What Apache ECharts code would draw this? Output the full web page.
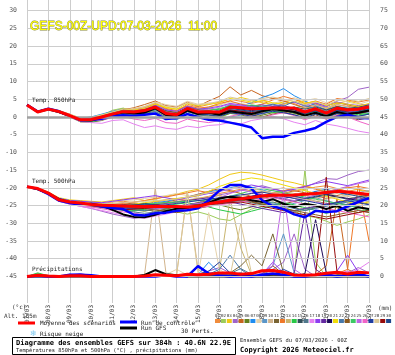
<!DOCTYPE html>
<html><head><meta charset="utf-8">
<script src="https://cdn.jsdelivr.net/npm/echarts@6/dist/echarts.min.js"></script>
<style>html,body{margin:0;padding:0;background:#fff}#c{width:395px;height:355px}</style>
</head><body><div id="c"></div>
<script>
const days = ['07/03','08/03','09/03','10/03','11/03','12/03','13/03','14/03','15/03','16/03','17/03','18/03','19/03','20/03','21/03','22/03','23/03'];
const leftTicks = [-45,-40,-35,-30,-25,-20,-15,-10,-5,0,5,10,15,20,25,30];
const rightTicks = [0,5,10,15,20,25,30,35,40,45,50,55,60,65,70,75];
const pertNames = ['01','02','03','04','05','06','07','08','09','10','11','12','13','14','15','16','17','18','19','20','21','22','23','24','25','26','27','28','29','30'];
const pertColors = ['#f08c3c','#9ccc5a','#f0c814','#a064c8','#c8641e','#64821e','#1e8cf0','#e6d2aa','#5a96c8','#d2b48c','#786432','#f07828','#c8b46e','#28c846','#32505a','#50788c','#e682f0','#8c3cf0','#6428a0','#1e0a5a','#f0dc0a','#4678aa','#8c5a1e','#3cc864','#be64e6','#f064c8','#1e3ca0','#dcc896','#960a0a','#1e468c'];

const mean850 = [3.4,1.4,2.2,1.5,0.4,-0.8,-0.7,0.0,0.8,1.5,1.4,1.8,2.8,1.0,0.6,2.4,1.4,1.5,1.4,2.8,2.6,2.3,2.4,2.5,2.5,2.5,1.4,2.3,1.1,2.5,2.0,2.2,2.8];
const control850 = [3.4,1.5,2.3,1.6,0.3,-0.9,-0.8,-0.5,0.2,0.5,0.3,0.6,1.0,-0.6,-0.3,0.8,0.0,-0.8,-1.0,-1.6,-2.2,-3.0,-6.0,-5.6,-5.6,-4.5,-3.9,-3.1,-1.4,0.0,0.6,-0.3,-0.4];
const gfs850 = [3.4,1.5,2.2,1.4,0.3,-0.9,-1.0,-0.3,0.6,1.3,1.0,1.2,2.4,0.6,0.0,1.8,0.8,1.2,0.6,1.6,1.2,0.8,1.6,2.2,1.8,1.4,0.4,1.2,0.2,1.4,0.8,1.2,1.8];

const mean500 = [-19.7,-20.2,-21.5,-23.4,-24.0,-24.3,-24.7,-24.9,-25.0,-25.1,-25.2,-25.3,-25.2,-25.3,-25.3,-25.4,-25.2,-24.5,-24.0,-23.5,-23.1,-22.7,-22.3,-22.0,-22.1,-22.0,-21.8,-21.6,-21.3,-21.0,-21.2,-21.5,-21.9];
const control500 = [-19.7,-20.3,-21.8,-23.6,-24.3,-24.8,-24.6,-25.3,-25.7,-26.0,-27.6,-27.8,-27.2,-27.0,-26.5,-26.3,-25.8,-23.5,-20.8,-19.2,-19.2,-20.2,-23.5,-25.2,-26.0,-27.5,-28.3,-26.5,-26.8,-26.6,-25.2,-24.0,-22.9];
const gfs500 = [-19.7,-20.4,-21.6,-23.2,-24.0,-24.6,-24.5,-25.0,-26.2,-27.5,-28.2,-28.3,-27.6,-26.6,-25.9,-25.6,-25.2,-24.2,-23.0,-22.5,-22.8,-23.5,-24.0,-23.2,-24.5,-25.5,-24.5,-25.0,-26.0,-25.0,-26.5,-25.5,-26.0];

const meanPrecip = [0,0.3,0.1,0,0.2,0.2,0,0,0,0,0,0.1,0.5,0.3,0.2,0.6,0.5,0.6,1.0,1.0,0.6,0.8,1.6,1.7,1.2,0.4,0.3,0.5,0.9,1.2,0.7,1.2,1.0];
const controlPrecip = [0,0.2,0,0,0.5,0.5,0.3,0,0,0,0,0,0,0.3,0,0,2.9,0.8,0.3,0,0,0,0.5,0.8,0.5,0,0,0.3,0.5,0,0.3,0.6,0];
const gfsPrecip = [0,0,0,0,0,0,0,0,0,0,0,0.4,1.8,0.6,0.3,0,0,0,0,0,0.3,0,0,0,0,0,0,0,0,0,0,0,0];

const pert850 = [
[3.4,1.6,2.4,1.8,0.6,-0.5,-0.3,0.6,1.5,2.4,2.0,2.8,3.9,2.2,1.5,3.6,2.8,3.5,4.2,5.0,4.4,3.8,4.5,5.2,4.6,3.8,2.5,3.0,2.2,3.4,3.0,2.6,3.2],
[3.3,1.3,2.0,1.2,0.2,-1.0,-0.6,0.4,1.9,2.5,1.6,1.2,2.2,0.5,0.2,1.8,0.9,0.5,-0.2,1.0,1.5,2.8,3.5,2.0,1.2,2.6,3.1,2.0,0.8,1.5,2.2,3.0,2.4],
[3.4,1.5,2.3,1.4,0.3,-0.9,-1.2,-0.5,0.5,1.2,1.8,2.9,3.8,2.8,2.2,3.0,2.2,2.8,3.4,4.6,5.5,4.8,4.0,3.6,4.2,5.0,4.2,3.6,2.5,3.8,4.5,3.8,3.0],
[3.5,1.4,2.1,1.6,0.5,-0.7,-0.9,-0.2,0.3,0.9,0.6,1.0,2.0,0.2,-0.4,1.5,0.8,1.2,0.5,1.8,2.0,1.2,1.6,2.5,3.8,4.2,3.0,3.5,2.8,4.5,5.5,7.8,8.4],
[3.4,1.5,2.2,1.5,0.5,-0.6,-0.4,0.2,1.2,2.0,2.6,3.5,4.5,3.2,2.8,4.2,3.0,4.5,5.8,8.5,6.2,7.5,6.0,5.2,4.5,3.5,2.5,3.8,3.2,4.0,3.4,2.8,3.5],
[3.3,1.3,2.2,1.3,0.0,-1.4,-1.5,-1.0,0.0,0.8,0.5,0.9,1.6,0.0,-0.6,1.0,0.2,0.6,0.0,1.0,0.6,-0.2,0.5,1.2,1.8,1.0,0.2,1.4,0.0,0.8,0.5,1.4,2.0],
[3.4,1.4,2.3,1.7,0.7,-0.4,0.0,0.8,1.6,2.2,1.5,2.0,3.2,1.5,0.8,2.8,1.8,1.2,2.0,3.5,3.0,4.0,5.5,6.5,8.0,6.0,4.5,3.2,2.0,3.0,2.5,1.5,2.2],
[3.4,1.6,2.5,1.8,0.8,-0.3,-0.2,0.5,1.0,1.8,2.4,3.0,4.2,3.5,3.0,4.4,3.6,4.0,3.5,4.2,3.8,3.2,3.0,3.8,4.6,5.4,4.6,5.2,4.0,5.0,4.2,3.5,4.5],
[3.4,1.4,2.1,1.3,0.2,-1.1,-1.3,-0.8,0.2,0.6,0.2,0.6,1.5,-0.2,-0.8,0.8,0.0,-0.5,-1.2,0.0,0.5,1.5,2.8,3.4,2.5,1.6,0.5,1.2,0.2,1.0,1.6,2.2,1.5],
[3.3,1.2,1.9,1.2,0.0,-1.2,-1.0,-0.4,0.5,1.3,1.0,1.5,2.2,0.6,0.2,2.0,1.2,0.8,1.6,2.4,2.0,1.5,2.0,1.6,1.0,2.0,2.6,3.4,2.4,3.6,2.8,2.0,1.6],
[3.4,1.5,2.2,1.5,0.4,-0.8,-0.6,0.3,1.0,1.8,1.4,1.6,2.5,1.2,0.4,2.2,1.2,1.0,0.6,1.6,1.0,0.4,1.2,2.2,2.8,2.0,1.0,2.5,1.8,3.0,2.2,1.6,1.8],
[3.4,1.6,2.4,1.6,0.6,-0.5,-0.5,0.2,0.8,1.6,2.2,2.6,3.6,2.4,1.8,3.2,2.5,2.8,3.8,4.5,3.6,3.0,3.6,4.8,5.8,5.0,3.8,4.5,3.6,5.2,4.8,4.2,4.8],
[3.4,1.4,2.2,1.4,0.3,-0.9,-0.8,-0.2,0.6,1.2,1.2,1.5,2.6,1.0,0.8,2.5,1.6,2.0,2.2,3.0,2.4,2.0,2.6,3.0,2.6,2.2,1.8,2.6,1.6,2.0,1.6,1.2,1.8],
[3.3,1.3,2.0,1.3,0.1,-1.2,-1.4,-0.6,0.4,1.0,1.2,1.8,2.6,1.6,1.0,2.2,1.8,2.4,2.0,3.2,2.8,2.2,1.8,1.2,1.6,2.2,1.5,2.0,0.8,1.8,1.2,0.6,1.0],
[3.4,1.5,2.3,1.6,0.4,-0.6,-0.5,0.2,0.9,1.6,1.6,2.2,3.0,1.8,1.2,2.8,2.0,1.8,1.2,2.4,2.6,3.2,2.8,2.2,2.0,2.8,2.2,2.8,2.0,2.8,2.4,2.8,3.4],
[3.4,1.4,2.2,1.5,0.4,-0.7,-0.6,0.2,1.1,1.7,1.3,1.4,2.4,0.8,0.4,1.8,0.6,0.2,0.4,1.4,1.8,1.2,0.8,1.8,2.6,2.0,0.8,1.6,0.6,1.6,1.0,0.2,0.8],
[3.4,1.3,2.0,1.2,0.0,-1.3,-1.6,-1.8,-1.0,-0.8,-2.0,-3.0,-2.5,-3.2,-3.5,-2.6,-3.0,-2.4,-2.2,-1.5,-2.0,-1.0,-0.5,0.2,-0.5,-1.5,-2.2,-1.0,-2.0,-2.5,-3.2,-4.0,-4.5],
[3.4,1.5,2.3,1.6,0.6,-0.5,-0.5,0.4,1.4,2.0,1.8,2.4,3.4,2.0,1.6,3.0,2.2,2.5,3.0,3.8,3.4,3.0,3.4,3.0,3.6,4.2,3.4,4.0,3.0,4.2,3.6,3.2,3.6],
[3.4,1.4,2.1,1.4,0.3,-0.9,-0.8,-0.3,0.4,1.2,1.0,1.3,2.2,0.4,0.0,1.6,0.8,1.0,0.8,2.0,1.6,0.8,1.5,2.6,3.2,2.4,1.6,2.4,1.4,2.6,2.0,2.6,3.0],
[3.4,1.4,2.2,1.4,0.4,-0.8,-0.7,-0.1,0.7,1.4,1.2,1.6,2.6,1.0,0.5,2.2,1.2,1.4,1.4,2.6,2.2,1.8,2.2,2.8,2.4,2.0,1.2,2.0,1.0,2.2,1.6,1.8,2.4],
[3.4,1.6,2.4,1.7,0.7,-0.4,-0.2,0.6,1.4,2.2,2.0,2.4,3.6,2.6,2.2,3.8,3.2,3.6,4.0,5.2,4.8,4.2,4.6,4.0,3.6,4.4,3.8,4.4,3.2,4.0,3.6,3.0,3.8],
[3.4,1.3,2.0,1.2,0.1,-1.1,-1.0,-0.4,0.3,1.0,0.8,1.2,2.0,0.5,0.0,1.4,0.6,0.8,1.2,2.2,2.6,2.0,3.0,3.6,3.0,4.4,3.2,2.4,1.6,2.4,1.8,1.0,1.4],
[3.4,1.5,2.3,1.5,0.5,-0.6,-0.5,0.3,1.2,2.0,1.6,2.0,3.0,1.6,1.2,2.6,2.0,1.4,0.8,1.6,1.2,0.6,0.0,0.8,1.4,0.6,-0.4,0.6,-0.6,0.4,0.0,-0.8,-0.2],
[3.3,1.4,2.2,1.4,0.3,-0.9,-1.0,-0.6,0.4,1.0,0.9,1.2,2.2,0.8,0.3,1.9,1.4,1.8,2.4,3.0,2.6,3.4,3.0,2.4,1.8,1.2,0.6,1.6,0.6,1.4,0.8,1.2,0.6],
[3.4,1.5,2.2,1.6,0.5,-0.7,-0.6,0.1,0.9,1.6,1.5,2.0,3.0,1.4,0.9,2.6,1.8,2.2,2.8,3.6,3.2,2.6,2.8,2.4,2.0,2.6,1.8,2.2,1.2,1.8,1.4,2.0,2.6],
[3.4,1.3,2.1,1.3,0.2,-1.0,-1.1,-0.8,-0.2,0.2,-0.6,-1.0,-0.4,-1.6,-1.8,-0.6,-1.2,-1.6,-1.0,0.2,0.8,0.2,-0.2,0.6,1.2,0.4,-0.8,0.2,-0.6,0.6,0.0,-1.2,-2.2],
[3.4,1.4,2.2,1.5,0.4,-0.8,-0.9,-0.4,0.5,1.1,1.0,1.4,2.4,0.6,0.2,2.0,1.0,0.6,0.2,1.2,0.8,0.2,1.0,1.6,1.2,0.6,-0.2,0.8,0.0,1.0,0.6,0.2,0.8],
[3.4,1.6,2.4,1.8,0.8,-0.3,-0.1,0.6,1.4,2.2,2.2,2.8,4.0,3.0,2.6,4.0,3.4,3.8,4.4,5.6,5.0,4.6,5.2,5.6,5.0,4.4,3.4,4.2,3.4,4.6,5.0,4.4,5.2],
[3.4,1.5,2.2,1.5,0.4,-0.7,-0.6,0.0,0.8,1.4,1.2,1.6,2.6,1.2,0.6,2.2,1.4,1.6,1.0,2.0,1.6,1.2,1.8,2.4,2.0,1.6,1.0,1.8,0.8,2.0,1.4,1.0,1.6],
[3.4,1.4,2.1,1.4,0.3,-0.9,-0.8,-0.2,0.6,1.3,1.1,1.5,2.5,0.9,0.5,2.1,1.1,1.3,1.6,2.4,2.0,1.5,1.9,2.2,1.9,1.5,0.9,1.7,0.7,1.8,1.3,1.5,2.0]
];

const pert500 = [
[-19.7,-20.1,-21.4,-23.2,-23.8,-24.0,-24.2,-24.4,-24.0,-23.8,-24.2,-24.6,-24.0,-23.4,-23.0,-23.6,-23.0,-22.4,-21.6,-21.0,-20.4,-20.8,-21.4,-20.6,-20.0,-21.0,-20.4,-19.8,-19.4,-20.2,-21.0,-20.4,-21.0],
[-19.7,-20.3,-21.7,-23.6,-24.3,-24.8,-25.3,-25.6,-25.8,-26.2,-26.6,-26.0,-25.4,-26.0,-26.8,-27.4,-26.8,-27.6,-28.8,-29.2,-27.6,-26.0,-25.2,-24.6,-25.4,-26.6,-27.8,-28.4,-29.4,-30.6,-29.6,-28.8,-27.6],
[-19.6,-20.0,-21.2,-22.8,-23.4,-23.6,-23.8,-24.0,-23.6,-23.2,-22.8,-23.6,-23.2,-22.4,-21.8,-21.0,-20.4,-19.2,-17.6,-16.2,-15.6,-15.8,-16.4,-17.2,-18.0,-18.6,-19.4,-20.2,-21.0,-20.4,-19.8,-20.6,-21.2],
[-19.7,-20.3,-21.8,-23.8,-24.6,-25.2,-25.8,-26.6,-27.4,-28.0,-28.6,-28.2,-27.6,-26.8,-25.6,-24.8,-24.2,-23.0,-22.0,-21.4,-20.8,-20.0,-19.4,-20.2,-21.0,-20.4,-19.8,-18.6,-17.4,-17.6,-16.4,-15.4,-15.0],
[-19.7,-20.2,-21.5,-23.4,-24.0,-24.4,-24.8,-25.0,-24.6,-24.2,-24.6,-25.0,-24.6,-24.0,-23.4,-22.6,-21.8,-21.0,-20.2,-20.8,-21.6,-22.4,-23.0,-22.4,-21.6,-20.8,-21.4,-22.2,-23.0,-22.2,-21.4,-22.0,-22.6],
[-19.7,-20.2,-21.6,-23.5,-24.2,-24.6,-25.0,-25.4,-25.6,-25.8,-26.2,-26.6,-26.0,-25.8,-25.4,-25.0,-24.6,-24.2,-24.8,-25.6,-26.2,-25.4,-24.6,-24.0,-24.8,-25.6,-26.4,-25.6,-24.8,-25.6,-26.4,-27.0,-26.2],
[-19.7,-20.1,-21.3,-23.0,-23.6,-23.8,-24.2,-24.4,-24.8,-25.2,-25.0,-24.6,-24.2,-23.8,-23.2,-22.6,-22.0,-21.2,-20.6,-20.0,-19.4,-19.8,-20.6,-21.4,-22.0,-22.6,-21.8,-21.0,-20.4,-21.2,-22.0,-21.4,-20.8],
[-19.8,-20.3,-21.6,-23.4,-24.0,-24.2,-24.4,-24.2,-23.8,-23.6,-23.4,-23.0,-22.6,-22.2,-21.6,-22.2,-22.8,-23.4,-24.0,-24.6,-24.0,-23.2,-22.6,-21.8,-21.0,-20.2,-20.8,-21.6,-22.4,-23.0,-22.2,-21.6,-22.4],
[-19.7,-20.2,-21.5,-23.5,-24.2,-24.6,-25.0,-25.4,-25.8,-26.0,-25.6,-25.2,-25.6,-26.2,-26.8,-26.2,-25.6,-25.0,-24.4,-23.8,-23.2,-22.6,-23.4,-24.2,-25.0,-24.4,-23.6,-22.8,-23.6,-24.4,-23.8,-23.2,-23.8],
[-19.7,-20.2,-21.5,-23.3,-23.9,-24.2,-24.4,-24.6,-24.4,-24.6,-25.0,-25.4,-25.0,-24.6,-24.2,-24.8,-25.4,-24.8,-24.0,-23.2,-22.4,-21.6,-21.0,-21.6,-22.2,-23.0,-23.6,-23.0,-22.2,-21.6,-22.4,-23.2,-24.0],
[-19.7,-20.3,-21.7,-23.6,-24.3,-24.7,-25.1,-25.4,-25.6,-25.4,-25.8,-26.2,-26.6,-26.0,-25.4,-24.8,-24.2,-23.6,-23.0,-22.4,-23.0,-23.8,-24.6,-25.2,-24.6,-23.8,-23.2,-23.8,-24.4,-25.2,-24.6,-24.0,-24.6],
[-19.7,-20.1,-21.4,-23.2,-23.8,-24.0,-24.4,-24.6,-24.8,-24.4,-24.0,-23.6,-23.0,-22.6,-22.0,-21.4,-20.8,-21.4,-22.2,-23.0,-23.6,-23.0,-22.2,-21.4,-20.8,-20.2,-19.6,-20.4,-21.2,-20.6,-20.0,-19.6,-20.2],
[-19.7,-20.2,-21.5,-23.4,-24.1,-24.5,-24.9,-25.2,-25.4,-25.6,-25.4,-25.0,-24.6,-24.2,-23.8,-23.4,-23.0,-22.6,-22.2,-22.8,-23.4,-22.8,-22.2,-21.6,-21.0,-21.6,-22.2,-21.6,-21.0,-20.6,-21.2,-21.8,-22.4],
[-19.7,-20.3,-21.6,-23.5,-24.2,-24.6,-25.0,-25.2,-25.6,-26.0,-26.4,-26.0,-25.6,-25.0,-24.6,-24.2,-24.8,-25.4,-26.2,-26.8,-27.4,-26.6,-25.8,-25.0,-24.2,-24.8,-25.6,-26.4,-27.2,-26.4,-25.6,-26.2,-26.8],
[-19.7,-20.2,-21.5,-23.4,-24.0,-24.3,-24.6,-24.8,-25.0,-25.2,-25.0,-24.8,-25.2,-25.6,-25.2,-24.8,-24.4,-24.0,-23.6,-23.2,-22.8,-22.4,-22.0,-22.6,-23.2,-23.8,-23.2,-22.6,-22.0,-22.6,-23.2,-22.6,-22.0],
[-19.7,-20.2,-21.6,-23.6,-24.3,-24.8,-25.2,-25.6,-26.0,-26.4,-26.8,-27.2,-26.8,-26.4,-26.0,-25.6,-25.2,-24.8,-24.4,-24.0,-23.6,-24.2,-24.8,-25.4,-26.0,-26.6,-26.0,-25.4,-24.8,-24.2,-24.8,-25.4,-26.0],
[-19.7,-20.3,-21.8,-23.8,-24.6,-25.2,-25.8,-26.4,-27.0,-27.6,-28.2,-28.6,-28.0,-27.4,-26.8,-26.2,-25.8,-25.2,-24.6,-24.0,-23.4,-22.8,-22.2,-21.6,-22.2,-22.8,-23.4,-24.0,-24.6,-25.2,-25.8,-26.4,-27.0],
[-19.7,-20.1,-21.3,-23.0,-23.6,-23.8,-24.0,-24.2,-23.8,-23.4,-23.0,-22.6,-22.2,-22.8,-23.4,-22.8,-22.2,-21.6,-21.0,-20.4,-19.8,-19.2,-19.8,-20.4,-21.0,-20.4,-19.6,-18.8,-18.2,-18.8,-19.4,-18.6,-17.8],
[-19.7,-20.2,-21.5,-23.4,-24.1,-24.5,-24.9,-25.2,-25.6,-26.0,-25.6,-25.2,-24.8,-24.4,-24.0,-23.6,-23.2,-22.8,-23.4,-24.0,-24.6,-25.2,-25.8,-26.4,-27.0,-26.4,-25.8,-25.2,-24.6,-24.0,-23.4,-22.8,-23.4],
[-19.7,-20.2,-21.5,-23.3,-23.9,-24.2,-24.6,-24.8,-25.0,-24.8,-24.6,-24.4,-24.8,-25.2,-25.6,-26.0,-25.4,-24.8,-24.2,-23.6,-23.0,-22.4,-21.8,-22.4,-23.0,-22.4,-21.8,-21.2,-21.8,-22.4,-23.0,-23.6,-23.0],
[-19.7,-20.1,-21.4,-23.2,-23.8,-24.1,-24.4,-24.6,-24.8,-25.0,-24.6,-24.2,-23.8,-23.4,-23.0,-22.6,-22.2,-21.0,-19.6,-18.6,-17.8,-17.2,-17.6,-18.4,-19.2,-20.0,-20.8,-21.6,-22.4,-23.2,-24.0,-24.6,-24.0],
[-19.7,-20.2,-21.6,-23.5,-24.2,-24.6,-25.0,-25.3,-25.6,-25.9,-26.2,-26.4,-26.0,-25.6,-25.2,-24.8,-24.4,-24.0,-23.6,-23.2,-22.8,-23.4,-24.0,-24.6,-25.2,-25.8,-26.4,-25.8,-25.2,-24.6,-24.0,-23.4,-22.8],
[-19.7,-20.2,-21.5,-23.4,-24.0,-24.4,-24.8,-25.0,-25.2,-25.4,-25.6,-25.8,-26.2,-26.6,-27.0,-26.4,-25.8,-25.2,-24.6,-24.0,-23.4,-24.0,-24.6,-25.2,-25.8,-26.4,-27.0,-27.6,-28.2,-27.6,-27.0,-26.4,-27.0],
[-19.7,-20.3,-21.6,-23.4,-24.1,-24.4,-24.8,-25.0,-25.2,-25.0,-24.8,-24.6,-24.4,-24.2,-24.0,-23.8,-23.6,-23.4,-23.2,-22.4,-21.6,-20.8,-20.2,-20.8,-21.4,-22.0,-22.6,-23.2,-23.8,-24.4,-25.0,-25.6,-26.2],
[-19.7,-20.2,-21.5,-23.4,-24.0,-24.4,-24.8,-25.2,-25.6,-25.4,-25.2,-25.6,-26.0,-25.6,-25.2,-24.8,-24.4,-24.0,-22.8,-21.6,-20.6,-21.2,-21.8,-22.4,-23.0,-23.6,-22.8,-22.0,-21.2,-20.4,-19.6,-18.8,-18.2],
[-19.7,-20.3,-21.7,-23.7,-24.4,-24.9,-25.4,-25.9,-26.4,-26.8,-27.2,-27.6,-27.2,-26.8,-26.4,-26.0,-25.6,-25.2,-24.8,-24.4,-24.0,-23.6,-23.2,-22.8,-23.4,-24.0,-24.6,-25.2,-25.8,-26.4,-27.0,-27.6,-28.2],
[-19.7,-20.2,-21.5,-23.4,-24.0,-24.4,-24.8,-25.1,-25.4,-25.6,-25.8,-25.6,-25.2,-24.8,-24.4,-24.0,-23.6,-23.2,-22.8,-22.4,-22.0,-21.6,-21.2,-21.8,-22.4,-23.0,-23.6,-24.2,-24.8,-24.2,-23.6,-24.2,-24.8],
[-19.7,-20.1,-21.4,-23.2,-23.8,-24.1,-24.4,-24.6,-24.4,-24.2,-24.0,-23.8,-23.6,-23.4,-23.2,-22.6,-22.0,-21.4,-20.8,-20.2,-19.6,-20.2,-20.8,-21.4,-22.0,-22.6,-23.2,-23.8,-23.2,-22.6,-22.0,-21.4,-20.8],
[-19.7,-20.2,-21.6,-23.5,-24.2,-24.6,-25.0,-25.4,-25.8,-26.2,-26.0,-25.8,-25.6,-25.4,-25.2,-25.0,-24.8,-24.6,-24.4,-24.2,-24.0,-24.6,-25.2,-25.8,-26.4,-27.0,-27.6,-28.2,-28.8,-28.2,-27.6,-27.0,-26.4],
[-19.7,-20.2,-21.5,-23.4,-24.0,-24.3,-24.6,-24.9,-25.2,-25.0,-24.8,-24.6,-24.8,-25.0,-25.2,-25.4,-25.0,-24.6,-24.2,-23.8,-23.4,-23.0,-22.6,-22.2,-21.8,-22.4,-23.0,-22.4,-21.8,-21.2,-21.8,-22.4,-23.0]
];

const pertPrecip = [
[0,0.4,0,0,0,0.3,0,0,0,0,0,0,0,0.2,0,0,0,0.5,1.0,0.6,0,0,0.8,2.0,1.2,0,0,0,0.4,1.5,0.6,0,0],
[0,0.8,0.2,0,0,0,0,0,0,0,0,0,0,0,0,0,0,0,0,0.4,0.2,0,0,0.6,0,0,30,4,0,0,0.5,1.0,0],
[0,0.6,0,0,0.2,0.4,0,0,0,0,0,0,0.3,0,0,0.2,0,0.8,0.2,0,0,0,0.4,0,0.6,0,0,0.2,0,0,0.8,0.4,0],
[0,0.2,0,0,0.5,0.8,0.2,0,0,0,0,0,0,0.5,0,0,0.6,1.5,2.5,1.0,0,0,0.5,2.0,4.0,12,2.0,0,0,0.5,1.0,2.5,1.0],
[0,0.3,0,0,0,0,0,0,0,0,0,0,0,0,0,0,0,0.8,0.4,0,0,0,0,0,0,0,0,0.5,3,22,2,0.5,0],
[0,0.5,0,0,0,0,0,0,0,0,0,0,0,0,0,0,0,0,0.5,1.0,0,0,0,0,0,0,0,0,0.4,1.0,0.5,0,0],
[0,0.2,0,0,0.3,0.6,0,0,0,0,0,0,0,0,0,0,0.5,4,1.0,0,0,0.4,0,0,0,0,0,0,0,0,0,0,0],
[0,0.4,0,0,0,0,0,0,0,0,0,0,0,0.5,2,0.4,0,18,2,0,0,0,0,0,0,0.5,0.8,0,0,0,0,0,0],
[0,0.3,0,0,0,0.2,0,0,0,0,0,0,0,0,0,0,0,0,0.6,1.2,0,0,0,3,12,1.0,0,0,0,0,0.6,0,0],
[0,0.5,0.2,0,0,0,0,0,0,0,0,0.5,25,1.0,0.4,24,2,0,0,0,0,0,0,0,0,0,0,0.5,1.0,0,0,0,0],
[0,0.3,0,0,0,0,0,0,0,0,0,0,0,0,0,0,0,0,0,1.0,3,6,3,12,1.0,0,0,0,0,0.6,0,0,0],
[0,0.4,0,0,0,0,0,0,0,0,0,0,0,0,0,0,0.4,0,0,0,0,0,0,0.6,0,0,0,0,0,0.8,2,26,10],
[0,0.3,0,0,0,0,0,0,0,0,0,0,0,0,0,0,0,0,1.5,22,8,0.5,0,0,0,0,0,0,0,0,0,0,0],
[0,1.0,0.2,0,0,0,0,0,0,0,0,0,0,0,0,0,0,0,0,0,0,0,0,0,0,0,0.6,0,1.2,0,0,0,0],
[0,0.2,0,0,0,0,0,0,0,0,0,0,0,0,0,0,0,0.4,0.6,0,0,0,0,0,0,0,0,0,0,0,0,0,0],
[0,0.3,0,0,0,0,0,0,0,0,0,0,0,0,0,0,0,0,0,0.8,2.2,0.6,0,0,0,0,0,0,0,0,0.4,0,0],
[0,0.4,0,0,0,0,0,0,0,0,0,0,0,0,0,0,0,0,0,0,0,0,0,0,0,0,0,0,0,0,0.8,2.0,4.0],
[0,0.2,0,0,0.4,0.6,0,0,0,0,0,0,0,0,0,0,0,0,0,0,0,0,0.6,4.0,1.0,0,0,0,0,1.5,6,1.2,0],
[0,0.3,0,0,0,0,0,0,0,0,0,0,0,0,0,0,0,0,0,0,0,0,0,0,0,1.0,18,2,0,0,0,0,0],
[0,0.2,0,0,0,0,0,0,0,0,0,0,0,0,0,0,0,0,0,0,0,0,0,0,0,0,0.8,16,1.0,0,0,0,0],
[0,0.6,0,0,0,0,0,0,0,0,0,0,0,0,0,0,0,0,0,0,0,0,0,0,0,0,0,0,0,0,0,0,0],
[0,0.3,0,0,0,0,0,0,0,0,0,0,0,0,0,0,0,0.6,2.0,6,2.0,0,0,0,0,0,0,0,0,0,0,0,0],
[0,0.4,0,0,0,0,0,0,0,0,0,0,0,0,0,0,0,0,0,0,0,0,0.8,3,0.6,0,0,0,0,0,0,0.8,0],
[0,0.8,0,0,0,0,0,0,0,0,0,0,0,0,0,0,0,0,0.6,0,0,0,0,0,0,0,0,0,0,0,0,0,0],
[0,0.2,0,0,0,0,0,0,0,0,0,0,0,0,0,0,0,0,0,0,0,0,1.0,3,24,2,0,0,0,0,0,0.6,1.2],
[0,0.3,0,0,0,0,0,0,0,0,0,0,0,0,0,0,0,0,0,0,0,0,0,0,0,0,0,0,0,0.8,1.5,0.4,0],
[0,0.2,0,0,0.6,0.4,0,0,0,0,0,0,0,0,0,0,0.6,1.5,4,1.0,0,0,0,0.5,2.0,0.6,0,0,0,0,0.5,0.8,0],
[0,0.4,0,0,0,0,0,0,0,0,0,0,0,0,0.6,24,1.0,0,0,0,15,1.0,0,0,0,0,0,0,0,0,0,0,0],
[0,0.2,0,0,0,0,0,0,0,0,0,0,0,0,0,0,0,0,0,0,0,0,0,0,0,0,0,0.5,28,1.5,0,0,0],
[0,0.3,0,0,0,0,0,0,0,0,0,0,0,0,0,0,0,0,0,0.5,1.0,0,0,0,0,0,0.4,0,0,0,0,0,0]
];

const MONO = "'DejaVu Sans Mono', monospace";
const cats = [];
days.forEach((d, i) => { cats.push(d + ' 00h'); if (i < days.length - 1) cats.push(d + ' 12h'); });

const series = [];
series.push({
  type: 'line', data: cats.map(() => null), yAxisIndex: 0, silent: true, z: 1,
  markLine: {
    silent: true, symbol: ['none', 'none'], animation: false, label: { show: false },
    lineStyle: { color: '#cdcdcd', width: 1, type: 'solid' },
    data: leftTicks.map(v => v === 0 ? { yAxis: v, lineStyle: { color: '#a0a0a0', width: 2.5, type: 'solid' } } : { yAxis: v })
  }
});
for (let k = 0; k < pertColors.length; k++) {
  const base = { type: 'line', symbol: 'none', silent: true, z: 2, lineStyle: { width: 1, color: pertColors[k] } };
  series.push(Object.assign({}, base, { data: pert850[k], yAxisIndex: 0 }));
  series.push(Object.assign({}, base, { data: pert500[k], yAxisIndex: 0 }));
  series.push(Object.assign({}, base, { data: pertPrecip[k], yAxisIndex: 1 }));
}
const main = (data, axis, color, width, z) => ({ type: 'line', symbol: 'none', silent: true, z, data, yAxisIndex: axis, lineStyle: { width, color } });
series.push(main(gfs850, 0, '#000000', 2, 3), main(gfs500, 0, '#000000', 2, 3), main(gfsPrecip, 1, '#000000', 2, 3));
series.push(main(control850, 0, '#0000ff', 2.5, 4), main(control500, 0, '#0000ff', 2.5, 4), main(controlPrecip, 1, '#0000ff', 2.5, 4));
series.push(main(mean850, 0, '#ff0000', 3, 5), main(mean500, 0, '#ff0000', 3, 5), main(meanPrecip, 1, '#ff0000', 3, 5));

const T = (x, y, text, size, extra) => ({ type: 'text', x, y, silent: true, z: 100,
  style: Object.assign({ text, fontSize: size, fontFamily: MONO, fill: '#222', align: 'left', verticalAlign: 'middle' }, extra || {}) });
const L = (x1, y1, x2, y2, color, w) => ({ type: 'line', silent: true, z: 100, shape: { x1, y1, x2, y2 }, style: { stroke: color, lineWidth: w } });

const graphic = [
  T(30, 27, 'GEFS-00Z-UPD:07-03-2026  11:00', 12, { fontFamily: "'Liberation Sans', Arial, sans-serif", fill: '#ffff00', stroke: '#8a8a40', lineWidth: 0.8 }),
  T(32, 100.5, 'Temp. 850hPa', 6),
  T(32, 181.5, 'Temp. 500hPa', 6),
  T(32, 269, 'Précipitations', 6),
  T(12, 307, '(°c)', 6, { fill: '#333' }),
  T(4, 316, 'Alt. 165m', 6, { fill: '#333' }),
  T(378, 308, '(mm)', 6, { fill: '#333' }),
  L(18, 323, 35, 323, '#ff0000', 3),
  T(40, 323, 'Moyenne des scénarios', 6),
  L(120, 322, 137, 322, '#0000ff', 3),
  T(141, 323, 'Run de contrôle', 6),
  L(120, 328, 137, 328, '#000000', 3),
  T(141, 328.5, 'Run GFS', 6),
  T(181, 331, '30 Perts.', 6),
  T(30, 333.5, '❄', 8, { fontFamily: "'DejaVu Sans', sans-serif", fill: '#7cc8f0' }),
  T(40, 334, 'Risque neige', 6),
  { type: 'rect', silent: true, z: 99, shape: { x: 12.5, y: 337.5, width: 223, height: 17 }, style: { fill: '#fff', stroke: '#000', lineWidth: 1 } },
  T(16, 343, 'Diagramme des ensembles GEFS sur 384h : 40.6N 22.9E', 7, { fontWeight: 'bold', fill: '#000' }),
  T(16, 350.5, 'Températures 850hPa et 500hPa (°C) , précipitations (mm)', 5.4, { fill: '#222' }),
  T(240, 341, 'Ensemble GEFS du 07/03/2026 - 00Z', 5.4, { fill: '#222' }),
  T(240, 350, 'Copyright 2026 Meteociel.fr', 7, { fontWeight: 'bold', fill: '#000' })
];
pertNames.forEach((n, k) => {
  const x = 215 + k * 5.9;
  graphic.push(T(x + 2.5, 316, n, 4.2, { align: 'center', fill: '#333' }));
  graphic.push({ type: 'rect', silent: true, z: 100, shape: { x: x, y: 319, width: 5, height: 4 }, style: { fill: pertColors[k] } });
});

const isTick = (v, arr) => arr.some(t => Math.abs(t - v) < 1e-6);
const chart = echarts.init(document.getElementById('c'), null, { renderer: 'canvas' });
chart.setOption({
  animation: false,
  backgroundColor: '#ffffff',
  grid: { left: 27, right: 26, top: 0, bottom: 52, containLabel: false },
  xAxis: {
    type: 'category', data: cats, boundaryGap: false,
    axisLine: { show: false }, axisTick: { show: false },
    splitLine: { show: true, interval: 1, lineStyle: { color: '#cdcdcd', width: 1 } },
    axisLabel: { interval: 1, rotate: 90, fontSize: 6, fontFamily: MONO, color: '#333', margin: 2, formatter: v => v.slice(0, 5) }
  },
  yAxis: [
    { type: 'value', min: -52.5, max: 33, interval: 2.5, position: 'left',
      axisLine: { show: false }, axisTick: { show: false }, splitLine: { show: false },
      axisLabel: { fontSize: 6.5, fontFamily: MONO, color: '#555', margin: 10, showMaxLabel: false, formatter: v => isTick(v, leftTicks) ? String(Math.round(v)) : '' } },
    { type: 'value', min: -7.5, max: 78, interval: 2.5, position: 'right',
      axisLine: { show: false }, axisTick: { show: false }, splitLine: { show: false },
      axisLabel: { fontSize: 6.5, fontFamily: MONO, color: '#555', margin: 11, showMaxLabel: false, formatter: v => isTick(v, rightTicks) ? String(Math.round(v)) : '' } }
  ],
  series,
  graphic
});
</script>
</body></html>
